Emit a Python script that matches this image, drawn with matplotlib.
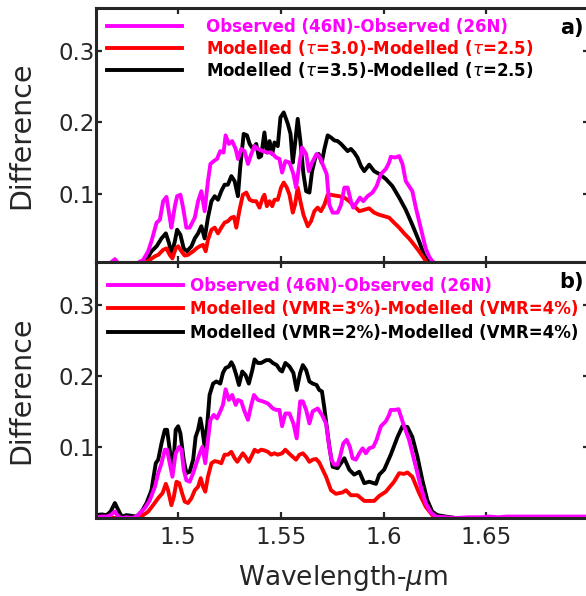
import numpy as np
import matplotlib
matplotlib.use('Agg')
import matplotlib.pyplot as plt

# (wavelength um, difference)

# panel a) observed and modelled (tau) differences
obs_a = [(1.4600, 0.000), (1.4668, 0.003), (1.4692, 0.009), (1.4709, 0.003), (1.4798, 0.003),
         (1.4830, 0.008), (1.4854, 0.020), (1.4870, 0.034), (1.4895, 0.060), (1.4911, 0.064),
         (1.4927, 0.090), (1.4943, 0.096), (1.4959, 0.067), (1.4967, 0.053), (1.4984, 0.083),
         (1.4995, 0.097), (1.5011, 0.099), (1.5024, 0.081), (1.5040, 0.053), (1.5056, 0.053),
         (1.5081, 0.067), (1.5097, 0.090), (1.5113, 0.104), (1.5129, 0.076), (1.5145, 0.118),
         (1.5157, 0.142), (1.5173, 0.146), (1.5189, 0.149), (1.5205, 0.160), (1.5221, 0.158),
         (1.5231, 0.182), (1.5247, 0.170), (1.5263, 0.174), (1.5280, 0.163), (1.5291, 0.149),
         (1.5307, 0.163), (1.5323, 0.160), (1.5340, 0.142), (1.5356, 0.156), (1.5372, 0.167),
         (1.5388, 0.163), (1.5412, 0.160), (1.5437, 0.158), (1.5453, 0.158), (1.5477, 0.151),
         (1.5493, 0.149), (1.5506, 0.130), (1.5522, 0.146), (1.5542, 0.144), (1.5561, 0.128),
         (1.5574, 0.109), (1.5590, 0.142), (1.5603, 0.165), (1.5623, 0.156), (1.5636, 0.132),
         (1.5652, 0.144), (1.5674, 0.156), (1.5691, 0.151), (1.5707, 0.139), (1.5723, 0.128),
         (1.5736, 0.085), (1.5752, 0.074), (1.5776, 0.074), (1.5793, 0.085), (1.5809, 0.109),
         (1.5825, 0.109), (1.5841, 0.090), (1.5852, 0.081), (1.5869, 0.088), (1.5885, 0.095),
         (1.5901, 0.090), (1.5922, 0.097), (1.5946, 0.102), (1.5966, 0.111), (1.5987, 0.128),
         (1.6011, 0.135), (1.6027, 0.144), (1.6035, 0.152), (1.6056, 0.151), (1.6076, 0.153),
         (1.6092, 0.142), (1.6108, 0.118), (1.6124, 0.111), (1.6140, 0.104), (1.6157, 0.081),
         (1.6173, 0.062), (1.6189, 0.043), (1.6205, 0.024), (1.6221, 0.013), (1.6237, 0.006),
         (1.6254, 0.003), (1.7000, 0.000)]

tau30_a = [(1.4600, 0.000), (1.4830, 0.003), (1.4862, 0.008), (1.4887, 0.013), (1.4903, 0.015),
           (1.4927, 0.022), (1.4943, 0.024), (1.4959, 0.015), (1.4972, 0.010), (1.4988, 0.024),
           (1.5000, 0.027), (1.5016, 0.020), (1.5032, 0.014), (1.5048, 0.015), (1.5073, 0.020),
           (1.5089, 0.024), (1.5105, 0.027), (1.5121, 0.029), (1.5134, 0.020), (1.5145, 0.036),
           (1.5162, 0.050), (1.5178, 0.053), (1.5194, 0.045), (1.5210, 0.053), (1.5226, 0.060),
           (1.5242, 0.062), (1.5259, 0.067), (1.5272, 0.068), (1.5283, 0.053), (1.5299, 0.078),
           (1.5315, 0.099), (1.5332, 0.102), (1.5348, 0.092), (1.5364, 0.090), (1.5380, 0.090),
           (1.5396, 0.081), (1.5412, 0.095), (1.5420, 0.099), (1.5432, 0.083), (1.5445, 0.090),
           (1.5458, 0.083), (1.5469, 0.092), (1.5485, 0.092), (1.5501, 0.109), (1.5514, 0.116),
           (1.5529, 0.109), (1.5542, 0.099), (1.5558, 0.074), (1.5569, 0.085), (1.5582, 0.109),
           (1.5595, 0.090), (1.5610, 0.071), (1.5631, 0.055), (1.5647, 0.062), (1.5663, 0.076),
           (1.5679, 0.081), (1.5695, 0.076), (1.5712, 0.085), (1.5728, 0.099), (1.5744, 0.099),
           (1.5760, 0.098), (1.5784, 0.097), (1.5809, 0.095), (1.5833, 0.090), (1.5857, 0.083),
           (1.5882, 0.076), (1.5906, 0.078), (1.5930, 0.080), (1.5954, 0.074), (1.5979, 0.071),
           (1.6003, 0.069), (1.6027, 0.067), (1.6051, 0.060), (1.6076, 0.053), (1.6100, 0.045),
           (1.6124, 0.038), (1.6149, 0.029), (1.6173, 0.020), (1.6197, 0.010), (1.6213, 0.003),
           (1.7000, 0.000)]

tau35_a = [(1.4600, 0.000), (1.4814, 0.003), (1.4846, 0.008), (1.4870, 0.020), (1.4895, 0.027),
           (1.4919, 0.038), (1.4940, 0.045), (1.4956, 0.031), (1.4967, 0.015), (1.4984, 0.034),
           (1.4995, 0.050), (1.5011, 0.043), (1.5027, 0.024), (1.5043, 0.020), (1.5065, 0.027),
           (1.5081, 0.038), (1.5097, 0.045), (1.5113, 0.055), (1.5129, 0.038), (1.5145, 0.067),
           (1.5162, 0.090), (1.5178, 0.097), (1.5194, 0.092), (1.5210, 0.104), (1.5226, 0.113),
           (1.5242, 0.113), (1.5259, 0.125), (1.5275, 0.118), (1.5291, 0.097), (1.5302, 0.137),
           (1.5319, 0.184), (1.5335, 0.182), (1.5348, 0.170), (1.5364, 0.163), (1.5380, 0.170),
           (1.5393, 0.151), (1.5404, 0.153), (1.5420, 0.186), (1.5432, 0.158), (1.5445, 0.174),
           (1.5458, 0.156), (1.5469, 0.172), (1.5485, 0.167), (1.5498, 0.207), (1.5514, 0.214),
           (1.5534, 0.198), (1.5547, 0.184), (1.5558, 0.144), (1.5569, 0.170), (1.5582, 0.205),
           (1.5595, 0.174), (1.5610, 0.128), (1.5623, 0.104), (1.5639, 0.102), (1.5652, 0.132),
           (1.5668, 0.151), (1.5684, 0.156), (1.5699, 0.144), (1.5712, 0.163), (1.5728, 0.182),
           (1.5744, 0.179), (1.5760, 0.175), (1.5776, 0.174), (1.5793, 0.170), (1.5809, 0.165),
           (1.5825, 0.160), (1.5841, 0.163), (1.5857, 0.158), (1.5873, 0.151), (1.5890, 0.139),
           (1.5906, 0.132), (1.5930, 0.141), (1.5954, 0.132), (1.5979, 0.128), (1.6011, 0.121),
           (1.6043, 0.111), (1.6076, 0.095), (1.6108, 0.078), (1.6140, 0.057), (1.6173, 0.034),
           (1.6197, 0.015), (1.6213, 0.008), (1.6229, 0.003), (1.7000, 0.000)]

# panel b) observed and modelled (VMR) differences
obs_b = [(1.4600, 0.001), (1.4628, 0.002), (1.4652, 0.002), (1.4671, 0.004), (1.4692, 0.009),
         (1.4709, 0.002), (1.4725, 0.000), (1.4749, 0.001), (1.4773, 0.000), (1.4798, 0.002),
         (1.4814, 0.007), (1.4838, 0.014), (1.4862, 0.025), (1.4887, 0.044), (1.4903, 0.063),
         (1.4919, 0.077), (1.4935, 0.096), (1.4946, 0.096), (1.4959, 0.077), (1.4972, 0.058),
         (1.4988, 0.091), (1.5005, 0.100), (1.5016, 0.096), (1.5027, 0.068), (1.5040, 0.053),
         (1.5056, 0.051), (1.5073, 0.063), (1.5089, 0.077), (1.5105, 0.091), (1.5118, 0.100),
         (1.5132, 0.077), (1.5145, 0.110), (1.5157, 0.138), (1.5173, 0.145), (1.5189, 0.140),
         (1.5205, 0.150), (1.5218, 0.159), (1.5231, 0.181), (1.5247, 0.166), (1.5263, 0.173),
         (1.5280, 0.159), (1.5291, 0.166), (1.5307, 0.164), (1.5323, 0.150), (1.5340, 0.138),
         (1.5356, 0.159), (1.5369, 0.173), (1.5388, 0.166), (1.5412, 0.164), (1.5437, 0.161),
         (1.5461, 0.154), (1.5477, 0.152), (1.5493, 0.152), (1.5506, 0.129), (1.5522, 0.147),
         (1.5542, 0.147), (1.5561, 0.133), (1.5577, 0.112), (1.5594, 0.164), (1.5607, 0.164),
         (1.5623, 0.152), (1.5639, 0.133), (1.5655, 0.150), (1.5679, 0.154), (1.5700, 0.145),
         (1.5720, 0.133), (1.5733, 0.105), (1.5746, 0.082), (1.5760, 0.075), (1.5776, 0.075),
         (1.5788, 0.086), (1.5804, 0.105), (1.5820, 0.110), (1.5836, 0.100), (1.5849, 0.084),
         (1.5865, 0.082), (1.5882, 0.091), (1.5898, 0.098), (1.5914, 0.091), (1.5930, 0.098),
         (1.5950, 0.100), (1.5966, 0.110), (1.5987, 0.129), (1.6011, 0.136), (1.6027, 0.145),
         (1.6035, 0.152), (1.6056, 0.152), (1.6073, 0.153), (1.6100, 0.129), (1.6124, 0.110),
         (1.6157, 0.072), (1.6181, 0.044), (1.6205, 0.021), (1.6230, 0.008), (1.6254, 0.002),
         (1.6302, 0.001), (1.6351, 0.000), (1.6416, 0.001), (1.6480, 0.001), (1.6513, 0.002),
         (1.6560, 0.001), (1.6600, 0.002), (1.6800, 0.002), (1.7000, 0.002)]

vmr3_b = [(1.4600, 0.000), (1.4668, 0.000), (1.4733, 0.000), (1.4798, 0.000), (1.4830, 0.004),
          (1.4854, 0.009), (1.4878, 0.018), (1.4903, 0.028), (1.4924, 0.035), (1.4940, 0.048),
          (1.4951, 0.039), (1.4967, 0.018), (1.4979, 0.030), (1.4992, 0.051), (1.5005, 0.049),
          (1.5019, 0.035), (1.5032, 0.023), (1.5048, 0.021), (1.5065, 0.028), (1.5081, 0.039),
          (1.5097, 0.044), (1.5110, 0.056), (1.5121, 0.044), (1.5132, 0.037), (1.5145, 0.058),
          (1.5162, 0.077), (1.5178, 0.080), (1.5194, 0.079), (1.5210, 0.077), (1.5226, 0.089),
          (1.5242, 0.089), (1.5259, 0.093), (1.5275, 0.084), (1.5288, 0.079), (1.5299, 0.084),
          (1.5315, 0.091), (1.5328, 0.086), (1.5344, 0.079), (1.5361, 0.089), (1.5372, 0.096),
          (1.5388, 0.093), (1.5404, 0.096), (1.5420, 0.095), (1.5437, 0.093), (1.5453, 0.089),
          (1.5469, 0.091), (1.5485, 0.089), (1.5506, 0.091), (1.5522, 0.096), (1.5539, 0.091),
          (1.5558, 0.086), (1.5574, 0.082), (1.5590, 0.089), (1.5607, 0.091), (1.5623, 0.086),
          (1.5639, 0.079), (1.5655, 0.082), (1.5671, 0.083), (1.5687, 0.078), (1.5720, 0.058),
          (1.5744, 0.039), (1.5768, 0.034), (1.5801, 0.036), (1.5817, 0.039), (1.5841, 0.032),
          (1.5873, 0.032), (1.5906, 0.024), (1.5954, 0.024), (1.5979, 0.031), (1.6011, 0.037),
          (1.6051, 0.051), (1.6076, 0.063), (1.6100, 0.062), (1.6116, 0.064), (1.6140, 0.058),
          (1.6173, 0.035), (1.6205, 0.016), (1.6237, 0.004), (1.6270, 0.000), (1.7000, 0.000)]

vmr2_b = [(1.4600, 0.004), (1.4628, 0.005), (1.4652, 0.004), (1.4671, 0.009), (1.4692, 0.021),
          (1.4709, 0.011), (1.4725, 0.002), (1.4749, 0.004), (1.4773, 0.003), (1.4798, 0.002),
          (1.4822, 0.009), (1.4846, 0.021), (1.4870, 0.039), (1.4891, 0.077), (1.4903, 0.082),
          (1.4919, 0.105), (1.4935, 0.124), (1.4946, 0.124), (1.4959, 0.096), (1.4975, 0.068),
          (1.4988, 0.124), (1.5000, 0.129), (1.5011, 0.119), (1.5027, 0.082), (1.5040, 0.063),
          (1.5056, 0.065), (1.5073, 0.082), (1.5085, 0.114), (1.5097, 0.124), (1.5108, 0.140),
          (1.5118, 0.124), (1.5129, 0.100), (1.5142, 0.133), (1.5153, 0.173), (1.5170, 0.189),
          (1.5186, 0.192), (1.5205, 0.189), (1.5218, 0.204), (1.5231, 0.211), (1.5247, 0.213),
          (1.5259, 0.219), (1.5270, 0.213), (1.5283, 0.201), (1.5296, 0.187), (1.5312, 0.206),
          (1.5328, 0.201), (1.5344, 0.189), (1.5361, 0.208), (1.5372, 0.223), (1.5388, 0.218),
          (1.5404, 0.218), (1.5429, 0.222), (1.5445, 0.222), (1.5461, 0.218), (1.5480, 0.215),
          (1.5496, 0.208), (1.5506, 0.206), (1.5522, 0.218), (1.5542, 0.213), (1.5561, 0.204),
          (1.5577, 0.180), (1.5594, 0.204), (1.5607, 0.215), (1.5623, 0.208), (1.5639, 0.192),
          (1.5655, 0.189), (1.5674, 0.187), (1.5687, 0.180), (1.5700, 0.178), (1.5712, 0.154),
          (1.5723, 0.129), (1.5736, 0.100), (1.5752, 0.072), (1.5776, 0.070), (1.5809, 0.084),
          (1.5833, 0.068), (1.5857, 0.061), (1.5882, 0.065), (1.5906, 0.049), (1.5930, 0.051),
          (1.5963, 0.048), (1.5979, 0.061), (1.6003, 0.068), (1.6035, 0.089), (1.6068, 0.114),
          (1.6092, 0.129), (1.6116, 0.128), (1.6140, 0.114), (1.6165, 0.086), (1.6189, 0.053),
          (1.6213, 0.025), (1.6237, 0.009), (1.6262, 0.004), (1.6302, 0.002), (1.6351, 0.000),
          (1.7000, 0.000)]

labels_a = ['Observed (46N)-Observed (26N)',
            r'Modelled ($\tau$=3.0)-Modelled ($\tau$=2.5)',
            r'Modelled ($\tau$=3.5)-Modelled ($\tau$=2.5)']
labels_b = ['Observed (46N)-Observed (26N)',
            'Modelled (VMR=3%)-Modelled (VMR=4%)',
            'Modelled (VMR=2%)-Modelled (VMR=4%)']
colors = ['#ff00ff', '#ff0000', '#000000']

xticks = [1.5, 1.55, 1.6, 1.65]
xtick_labels = ['1.5', '1.55', '1.6', '1.65']
yticks = [0.1, 0.2, 0.3]
ytick_labels = ['0.1', '0.2', '0.3']

gray = '#262626'

fig = plt.figure(figsize=(5.86, 5.96), dpi=100)
ax1 = fig.add_axes([0.1638, 0.5604, 0.8413, 0.4262])
ax2 = fig.add_axes([0.1638, 0.1309, 0.8413, 0.4295])


def draw_panel(ax, series, labels, tag, ylo, hand_pad, spacing, anchor):
    lines = []
    # black and red underneath, observed on top
    for k in [2, 1, 0]:
        w, d = zip(*series[k])
        ln, = ax.plot(w, d, color=colors[k], lw=2.8, solid_joinstyle='round', label=labels[k])
        lines.append(ln)
    lines = lines[::-1]
    leg = ax.legend(lines, labels, loc='upper left', bbox_to_anchor=anchor, frameon=False,
                    prop={'weight': 'bold', 'size': 12}, handlelength=4.5,
                    handletextpad=hand_pad, labelspacing=spacing, borderpad=0, borderaxespad=0)
    for txt, c in zip(leg.get_texts(), colors):
        txt.set_color(c)
    ax.set_xlim(1.46, 1.70)
    ax.set_ylim(ylo, 0.36)
    ax.set_xticks(xticks)
    ax.set_yticks(yticks)
    ax.set_yticklabels(ytick_labels)
    ax.tick_params(direction='in', length=4.5, width=1.6, top=True, right=True,
                   colors=gray, labelsize=16.5)
    ax.tick_params(axis='y', pad=1)
    for s in ax.spines.values():
        s.set_linewidth(2.2)
        s.set_color(gray)
    ax.set_ylabel('Difference', fontsize=20.5, color=gray)
    ax.yaxis.set_label_coords(-0.124, 0.5)
    ax.text(0.965, 0.92, tag, transform=ax.transAxes, fontsize=15, fontweight='bold',
            ha='center', va='center')


draw_panel(ax1, [obs_a, tau30_a, tau35_a], labels_a, 'a)', 0.005, 1.45, 0.12, (0.022, 0.962))
draw_panel(ax2, [obs_b, vmr3_b, vmr2_b], labels_b, 'b)', 0.0, 0.45, 0.33, (0.024, 0.943))

ax1.set_xticklabels([])
ax2.set_xticklabels(xtick_labels)
ax2.tick_params(axis='x', pad=6)
ax2.set_xlabel(r'Wavelength-$\mu$m', fontsize=19, color=gray, labelpad=10)

plt.savefig('out.png', dpi=100)
